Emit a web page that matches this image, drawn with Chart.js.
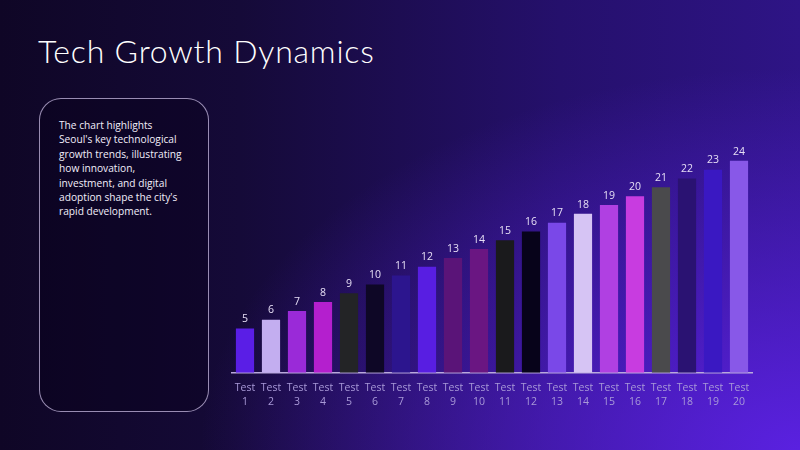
<!DOCTYPE html>
<html>
<head>
<meta charset="utf-8">
<script src="https://cdn.jsdelivr.net/npm/chart.js@4/dist/chart.umd.min.js"></script>
<style>
    html, body { margin: 0; padding: 0; }
    body {
        width: 800px; height: 450px; overflow: hidden; position: relative;
        background:
            radial-gradient(ellipse 75% 85% at 100% 100%, rgba(94,34,232,0.92), rgba(94,34,232,0) 100%),
            linear-gradient(90deg, #0f0626 0%, #150a38 30%, #25106c 70%, #2e1486 100%);
        font-family: "Open Sans", sans-serif;
    }
    #title {
        position: absolute; left: 38px; top: 31px;
        font-family: Lato, sans-serif; font-weight: 300; font-size: 32px;
        color: #ffffff; letter-spacing: 0.8px; white-space: nowrap;
    }
    #note {
        position: absolute; left: 39px; top: 98px; width: 168px; height: 312px;
        border: 1.2px solid rgba(200,185,225,0.75); border-radius: 22px;
        background: rgba(6,0,22,0.35);
    }
    #note p {
        margin: 0; position: absolute; left: 19px; top: 19px;
        font-size: 10.2px; line-height: 14.4px; color: #f2eefa; white-space: nowrap;
    }
    #wrap { position: absolute; left: 222px; top: 120px; width: 540px; height: 300px; }
</style>
</head>
<body>
<div id="title">Tech Growth Dynamics</div>
<div id="note"><p>The chart highlights<br>Seoul's key technological<br>growth trends, illustrating<br>how innovation,<br>investment, and digital<br>adoption shape the city's<br>rapid development.</p></div>
<div id="wrap"><canvas id="chartTech"></canvas></div>
<script>
var testLabels = ["Test 1", "Test 2", "Test 3", "Test 4", "Test 5", "Test 6", "Test 7", "Test 8", "Test 9", "Test 10",
    "Test 11", "Test 12", "Test 13", "Test 14", "Test 15", "Test 16", "Test 17", "Test 18", "Test 19", "Test 20"];
var testValues = [5, 6, 7, 8, 9, 10, 11, 12, 13, 14, 15, 16, 17, 18, 19, 20, 21, 22, 23, 24];
var barColors = ["#5a1ee6", "#c3aef0", "#9a2ad8", "#b41fce", "#232426", "#0e0726", "#2c158e", "#581ee2", "#5a1478", "#6a1682",
    "#1a1a1c", "#07031a", "#7a48e8", "#d6c4f4", "#b040e2", "#c83ce0", "#4a4a4c", "#2a1272", "#3a18c2", "#8858e8"];

// value labels on top of each bar
var barValueLabels = {
    id: 'barValueLabels',
    afterDatasetsDraw: function(chart){
        var ctx = chart.ctx;
        var meta = chart.getDatasetMeta(0);
        ctx.save();
        ctx.font = "10.5px 'Open Sans'";
        ctx.fillStyle = "#e6def5";
        ctx.textAlign = "center";
        ctx.textBaseline = "bottom";
        meta.data.forEach(function(bar, i){
            ctx.fillText(chart.data.datasets[0].data[i], bar.x, bar.y - 4);
        });
        ctx.restore();
    }
};

var ctx = document.getElementById("chartTech").getContext("2d");
var techChart = new Chart(ctx, {
    type: 'bar',
    data: {
        labels: testLabels.map(function(l){ return l.split(" "); }),
        datasets: [{
            data: testValues,
            backgroundColor: barColors,
            borderWidth: 0,
            categoryPercentage: 1,
            barPercentage: 0.7
        }]
    },
    options: {
        responsive: true,
        maintainAspectRatio: false,
        animation: false,
        layout: { padding: { left: 10, right: 10, top: 14.4, bottom: 11 } },
        plugins: { legend: { display: false }, tooltip: { enabled: false } },
        scales: {
            x: {
                grid: { display: false },
                border: { display: true, color: "#b9a9dc", width: 1.5 },
                ticks: {
                    color: "#a99ad8", padding: 0, maxRotation: 0, autoSkip: false,
                    font: { family: "Open Sans", size: 10.5, lineHeight: 1.35 }
                }
            },
            y: { display: false, min: 0, max: 27 }
        }
    },
    plugins: [barValueLabels]
});
</script>
</body>
</html>
